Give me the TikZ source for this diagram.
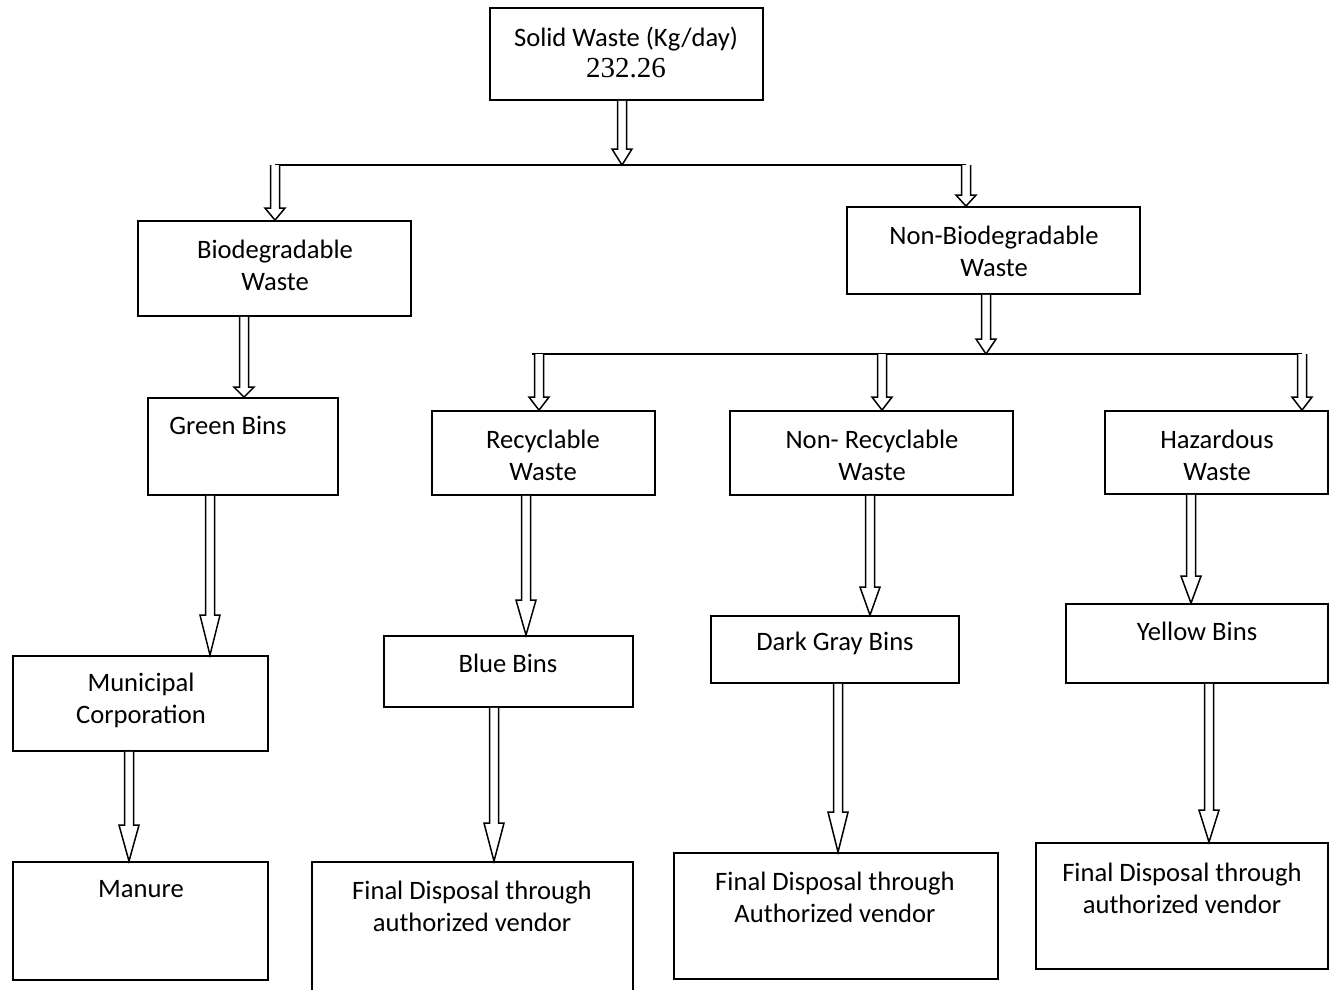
\documentclass[tikz,border=0pt]{standalone}
\usepackage{fontspec}
\setmainfont{Carlito}
\newfontfamily\numfont{Liberation Serif}
\usetikzlibrary{calc}
\tikzset{
  box/.style={draw=black, line width=1.8pt, rectangle, inner sep=0pt},
  txt/.style={inner sep=0pt, align=center, font=\fontsize{26.6}{32}\selectfont},
  bus/.style={draw=black, line width=1.6pt},
  arrowline/.style={draw=black, line width=1.5pt, fill=white, line join=miter}
}
\newcommand\mkbox[6]{% name, x1,y1,x2,y2, extra
  \node[box, minimum width={#4-#2}, minimum height={#5-#3}, #6] (#1) at ({(#2+#4)/2},{(#3+#5)/2}) {};}
\newcommand\harrow[3]{%
  \path[arrowline] let \p1=(#1), \p2=(#2) in
    (\x1-4.5pt,\y1) -- (\x1-4.5pt,\y2+#3) -- (\x1-10pt,\y2+#3) -- (\x1,\y2) --
    (\x1+10pt,\y2+#3) -- (\x1+4.5pt,\y2+#3) -- (\x1+4.5pt,\y1);}
\begin{document}
\begin{tikzpicture}[x=1pt,y=-1pt]
\useasboundingbox[fill=white] (0,0) rectangle (1335,989);

% boxes
\mkbox{solid}{490}{8}{763}{100}{}
\mkbox{bio}{138}{221}{411}{316}{}
\mkbox{nonbio}{847}{207}{1140}{294}{}
\mkbox{green}{148}{398}{338}{495}{}
\mkbox{muni}{13}{656}{268}{751}{}
\mkbox{manure}{13}{862}{268}{980}{}
\mkbox{recyc}{432}{411}{655}{495}{}
\mkbox{nonrec}{730}{411}{1013}{495}{}
\mkbox{haz}{1105}{411}{1328}{494}{}
\mkbox{blue}{384}{636}{633}{707}{}
\mkbox{dark}{711}{616}{959}{683}{}
\mkbox{yellow}{1066}{604}{1328}{683}{}
\mkbox{finA}{312}{862}{633}{998}{}
\mkbox{finB}{674}{853}{998}{979}{}
\mkbox{finC}{1036}{843}{1328}{969}{}

% texts
\node[txt] (solidT) at (626,52) {Solid Waste (Kg/day)\\[-1pt]{\numfont\fontsize{29}{32}\selectfont 232.26}};
\node[txt] (bioT) at (275,265) {Biodegradable\\Waste};
\node[txt] (nonbioT) at (994,251) {Non-Biodegradable\\Waste};
\node[txt] (greenT) at (228,425) {Green Bins};
\node[txt] (muniT) at (141,700) {Municipal\\Corporation};
\node[txt] (manureT) at (141,889) {Manure};
\node[txt] (recycT) at (543,455) {Recyclable\\Waste};
\node[txt] (nonrecT) at (872,455) {Non- Recyclable\\Waste};
\node[txt] (hazT) at (1217,455) {Hazardous\\Waste};
\node[txt] (blueT) at (508,663) {Blue Bins};
\node[txt] (darkT) at (835,643) {Dark Gray Bins};
\node[txt] (yellowT) at (1197,631) {Yellow Bins};
\node[txt] (finAT) at (472,906) {Final Disposal through\\authorized vendor};
\node[txt] (finBT) at (835,897) {Final Disposal through\\Authorized vendor};
\node[txt] (finCT) at (1182,888) {Final Disposal through\\authorized vendor};

% bus coordinates
\coordinate (busA) at (622,165);
\coordinate (busAL) at (275,165);
\coordinate (busAR) at (966,165);
\coordinate (busB) at (986,354);
\coordinate (busBL) at (532,354);
\coordinate (busB1) at (539,354);
\coordinate (busB2) at (882,354);
\coordinate (busBR) at (1302,354);
\draw[bus] (busAL) -- (busAR);
\draw[bus] (busBL) -- (busBR);

% arrow x positions
\coordinate (xa4) at (244,0);
\coordinate (xa5) at (210,0);
\coordinate (xa6) at (129,0);
\coordinate (xa11) at (526,0);
\coordinate (xa12) at (870,0);
\coordinate (xa13) at (1191,0);
\coordinate (xa14) at (494,0);
\coordinate (xa15) at (838,0);
\coordinate (xa16) at (1209,0);

% arrows
\harrow{busA |- solid.south}{busA}{16pt}
\harrow{busAL}{busAL |- bio.north}{12pt}
\harrow{busAR}{busAR |- nonbio.north}{11pt}
\harrow{busB |- nonbio.south}{busB}{15pt}
\harrow{busB1}{busB1 |- recyc.north}{13pt}
\harrow{busB2}{busB2 |- nonrec.north}{13pt}
\harrow{busBR}{busBR |- haz.north}{13pt}
\harrow{xa4 |- bio.south}{xa4 |- green.north}{10pt}
\harrow{xa5 |- green.south}{xa5 |- muni.north}{40pt}
\harrow{xa6 |- muni.south}{xa6 |- manure.north}{36pt}
\harrow{xa11 |- recyc.south}{xa11 |- blue.north}{35pt}
\harrow{xa12 |- nonrec.south}{xa12 |- dark.north}{28pt}
\harrow{xa13 |- haz.south}{xa13 |- yellow.north}{27pt}
\harrow{xa14 |- blue.south}{xa14 |- finA.north}{38pt}
\harrow{xa15 |- dark.south}{xa15 |- finB.north}{40pt}
\harrow{xa16 |- yellow.south}{xa16 |- finC.north}{32pt}
\end{tikzpicture}
\end{document}
